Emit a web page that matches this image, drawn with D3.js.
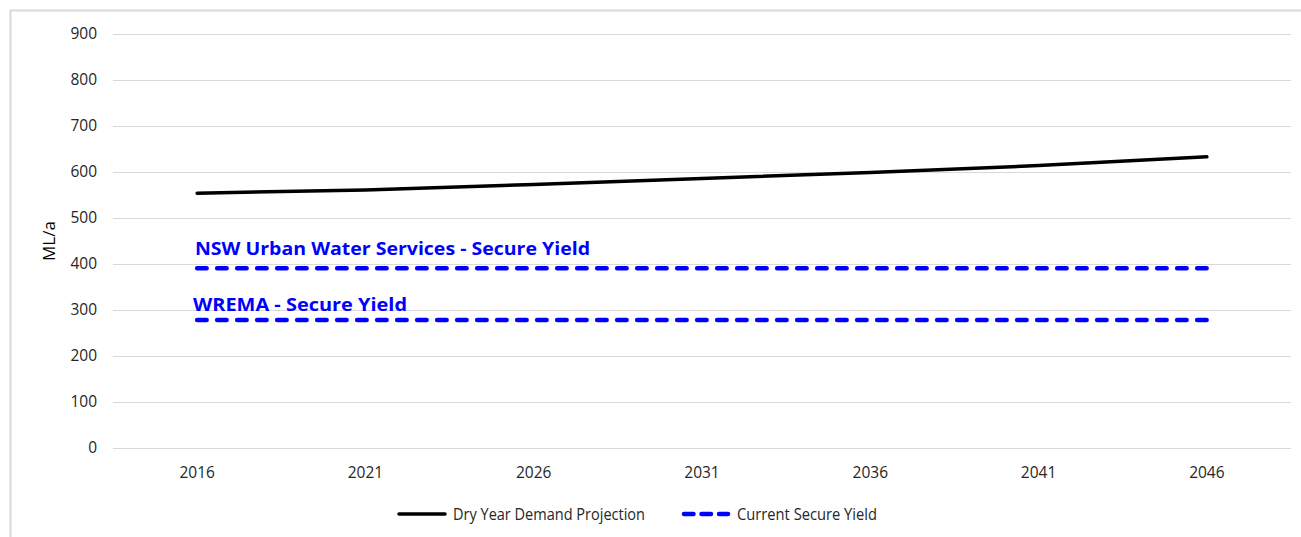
<!DOCTYPE html>
<html><head><meta charset="utf-8">
<script src="https://cdn.jsdelivr.net/npm/d3@7"></script>
<style>body{margin:0;background:#fff;} text{font-family:"Open Sans",Lato,sans-serif;}</style>
</head><body>
<svg id="c" width="1301" height="537"></svg>
<script>
const years = ["2016","2021","2026","2031","2036","2041","2046"];
const demand = [554, 561, 573, 586, 599, 614, 633];
const nswYield = [391, 391, 391, 391, 391, 391, 391];
const wremaYield = [278, 278, 278, 278, 278, 278, 278];
const yTicks = [0,100,200,300,400,500,600,700,800,900];

(function(){
const svg = d3.select("#c");
svg.append("rect").attr("x",10.5).attr("y",10.5).attr("width",1300).attr("height",540)
  .attr("fill","#fff").attr("stroke","#d9d9d9").attr("stroke-width",2);

const pL=113, pR=1291, pT=34, pB=448;
const x = d3.scaleBand().domain(years).range([pL,pR]);
const y = d3.scaleLinear().domain([0,900]).range([pB,pT]);

const yAxis = svg.append("g").attr("transform",`translate(${pL},0)`)
  .call(d3.axisLeft(y).tickValues(yTicks).tickSize(-(pR-pL)).tickPadding(16));
yAxis.select(".domain").remove();
yAxis.selectAll(".tick line").attr("stroke","#d9d9d9").attr("stroke-width",1);
yAxis.selectAll(".tick text").attr("fill","#262626").style("font-size","15.5px");

const xAxis = svg.append("g").attr("transform",`translate(0,${pB})`)
  .call(d3.axisBottom(x).tickSize(0).tickPadding(19));
xAxis.select(".domain").remove();
xAxis.selectAll(".tick text").attr("fill","#262626").style("font-size","15.5px");

const cx = (d,i) => x(years[i]) + x.bandwidth()/2;
const line = d3.line().x(cx).y(d=>y(d));

svg.append("path").datum(demand).attr("d",line).attr("fill","none")
  .attr("stroke","#000").attr("stroke-width",3.5).attr("stroke-linecap","round");
[nswYield, wremaYield].forEach(s=>{
  svg.append("path").datum(s).attr("d",line).attr("fill","none")
    .attr("stroke","#0000ff").attr("stroke-width",4.5)
    .attr("stroke-dasharray","9.5,10.5").attr("stroke-linecap","round");
});

svg.append("text").attr("x",195).attr("y",y(nswYield[0])-13).attr("fill","#0000ff")
  .style("font-size","18px").style("font-weight","bold")
  .attr("textLength",395).attr("lengthAdjust","spacingAndGlyphs")
  .text("NSW Urban Water Services - Secure Yield");
svg.append("text").attr("x",193).attr("y",y(wremaYield[0])-9).attr("fill","#0000ff")
  .style("font-size","18px").style("font-weight","bold")
  .attr("textLength",214).attr("lengthAdjust","spacingAndGlyphs")
  .text("WREMA - Secure Yield");

svg.append("text").attr("transform","translate(55,241) rotate(-90)").attr("text-anchor","middle")
  .attr("fill","#000").style("font-size","17px").text("ML/a");

const ly = 514;
svg.append("line").attr("x1",399).attr("x2",445).attr("y1",ly).attr("y2",ly)
  .attr("stroke","#000").attr("stroke-width",3.5).attr("stroke-linecap","round");
svg.append("text").attr("x",453).attr("y",ly+6).attr("fill","#262626").style("font-size","16.5px")
  .attr("textLength",192).attr("lengthAdjust","spacingAndGlyphs").text("Dry Year Demand Projection");
svg.append("line").attr("x1",684).attr("x2",728).attr("y1",ly).attr("y2",ly)
  .attr("stroke","#0000ff").attr("stroke-width",4.5).attr("stroke-dasharray","9.5,8").attr("stroke-linecap","round");
svg.append("text").attr("x",737).attr("y",ly+6).attr("fill","#262626").style("font-size","16.5px")
  .attr("textLength",140).attr("lengthAdjust","spacingAndGlyphs").text("Current Secure Yield");
})();
</script>
</body></html>
